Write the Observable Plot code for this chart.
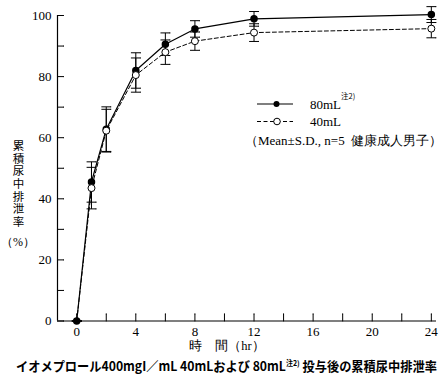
<!DOCTYPE html>
<html><head><meta charset="utf-8">
<script src="https://cdn.jsdelivr.net/npm/d3@7"></script>
<script src="https://cdn.jsdelivr.net/npm/@observablehq/plot@0.6"></script>
<style>body{margin:0;background:#fff}#chart{width:448px;height:379px}</style>
</head><body><div id="chart"></div>
<script>
// ---- data ----
const times = [0, 1, 2, 4, 6, 8, 12, 24];
const mean80 = [0, 45.5, 62.8, 82.0, 90.6, 95.6, 98.9, 100.3];
const sd80   = [0, 6.6, 7.3, 5.8, 3.7, 2.7, 2.4, 2.6];
const mean40 = [0, 43.5, 62.3, 80.5, 88.0, 91.6, 94.4, 95.7];
const sd40   = [0, 6.8, 7.0, 5.6, 4.0, 3.0, 2.9, 3.0];
const xLabelTicks = [0, 4, 8, 12, 16, 20, 24];
const xMinorTicks = [0, 2, 4, 6, 8, 10, 12, 14, 16, 18, 20, 22, 24];
const yLabelTicks = [0, 20, 40, 60, 80, 100];
const yMinorTicks = [0, 10, 20, 30, 40, 50, 60, 70, 80, 90, 100];
const xDomain = [-1.3, 24.35];
const yDomain = [0, 100];
const seriesNames = ["80mL", "40mL"];
const yLabelText = "累積尿中排泄率";
const yLabelUnit = "（%）";
const xTitle = "時　間（hr）";
const captionMain = "イオメプロール400mgI／mL 40mLおよび 80mL";
const captionSup = "注2)";
const captionEnd = " 投与後の累積尿中排泄率";
const legendNote = "（Mean±S.D., n=5  健康成人男子）";

const rows80 = times.map((t, i) => ({t, m: mean80[i], sd: sd80[i]}));
const rows40 = times.map((t, i) => ({t, m: mean40[i], sd: sd40[i]}));

const serif = "'Liberation Serif', 'DejaVu Serif', serif";
const jp = "'Noto Sans CJK JP', sans-serif";
const cap = {r: 0, length: 9, rotate: 90, anchor: "middle", stroke: "black", strokeWidth: 1};

function errMarks(rows) {
  return [
    Plot.link(rows, {x1: "t", x2: "t", y1: d => d.m - d.sd, y2: d => d.m + d.sd, stroke: "black", strokeWidth: 1}),
    Plot.vector(rows, {x: "t", y: d => d.m + d.sd, ...cap}),
    Plot.vector(rows, {x: "t", y: d => d.m - d.sd, ...cap})
  ];
}

const plot = Plot.plot({
  width: 448, height: 379,
  marginLeft: 57, marginRight: 12, marginTop: 15, marginBottom: 58.5,
  style: {fontFamily: serif, fontSize: "13px", background: "white", color: "black", overflow: "visible"},
  x: {domain: xDomain},
  y: {domain: yDomain},
  marks: [
    Plot.axisY({ticks: yLabelTicks, tickSize: 0, tickPadding: 6, label: null, fontSize: 13}),
    Plot.axisX({ticks: xLabelTicks, tickSize: 0, tickPadding: 6, label: null, fontSize: 13}),
    Plot.ruleY([yDomain[0]], {stroke: "black", strokeWidth: 1.2}),
    Plot.ruleX([xDomain[0]], {stroke: "black", strokeWidth: 1.2}),
    Plot.vector(yMinorTicks, {y: d => d, frameAnchor: "left", length: 6, rotate: 90, anchor: "start", r: 0, stroke: "black", strokeWidth: 1}),
    Plot.vector(xMinorTicks, {x: d => d, frameAnchor: "bottom", length: 7, rotate: 0, anchor: "start", r: 0, stroke: "black", strokeWidth: 1}),
    ...errMarks(rows40),
    ...errMarks(rows80),
    Plot.line(rows80, {x: "t", y: "m", stroke: "black", strokeWidth: 1.2}),
    Plot.line(rows40, {x: "t", y: "m", stroke: "black", strokeWidth: 1, strokeDasharray: "4,2.5"}),
    Plot.dot(rows80, {x: "t", y: "m", r: 3, fill: "black", stroke: "black"}),
    Plot.dot(rows40, {x: "t", y: "m", r: 3.5, fill: "white", stroke: "black", strokeWidth: 1, filter: d => d.t > 0})
  ]
});

document.getElementById("chart").append(plot);
const svg = d3.select(plot);

// legend
const lg = svg.append("g").style("font-family", serif).attr("font-size", 13).attr("fill", "black").attr("text-anchor", "start");
lg.append("line").attr("x1", 257).attr("x2", 293).attr("y1", 104).attr("y2", 104).attr("stroke", "black").attr("stroke-width", 1.2);
lg.append("circle").attr("cx", 276.5).attr("cy", 104).attr("r", 3).attr("fill", "black");
lg.append("text").attr("x", 310).attr("y", 108.5).text(seriesNames[0]);
lg.append("text").attr("x", 341).attr("y", 99).style("font-family", jp).attr("font-size", 7.5).text(captionSup);
lg.append("line").attr("x1", 257).attr("x2", 293).attr("y1", 121.5).attr("y2", 121.5).attr("stroke", "black").attr("stroke-dasharray", "4,2.5");
lg.append("circle").attr("cx", 277).attr("cy", 121.5).attr("r", 3.3).attr("fill", "white").attr("stroke", "black");
lg.append("text").attr("x", 310).attr("y", 126).text(seriesNames[1]);
lg.append("text").attr("x", 245).attr("y", 144.5).text(legendNote);

// y axis label (vertical)
svg.append("text").attr("x", 18.5).attr("y", 140).attr("text-anchor", "start").style("font-family", jp).attr("font-size", 11.5)
  .style("writing-mode", "vertical-rl").style("letter-spacing", "1.1px").attr("fill", "black").text(yLabelText);
svg.append("text").attr("x", 18).attr("y", 245.5).attr("text-anchor", "middle").style("font-family", serif)
  .attr("font-size", 12).attr("fill", "black").text(yLabelUnit);

// x axis title
svg.append("text").attr("x", 227).attr("y", 349.5).attr("text-anchor", "middle")
  .style("font-family", serif).attr("font-size", 12.5).attr("fill", "black").text(xTitle);

// caption
const cg = svg.append("g");
const ct = cg.append("text").attr("x", 0).attr("y", 371).attr("text-anchor", "start").style("font-family", jp).attr("font-weight", "bold")
  .attr("font-size", 13).attr("fill", "black");
ct.append("tspan").text(captionMain);
ct.append("tspan").attr("font-size", 7.5).attr("dy", -5).text(captionSup);
ct.append("tspan").attr("dy", 5).text(captionEnd);
const w = ct.node().getBBox().width;
cg.attr("transform", `translate(16,0) scale(${421 / w},1)`);
</script>
</body></html>
